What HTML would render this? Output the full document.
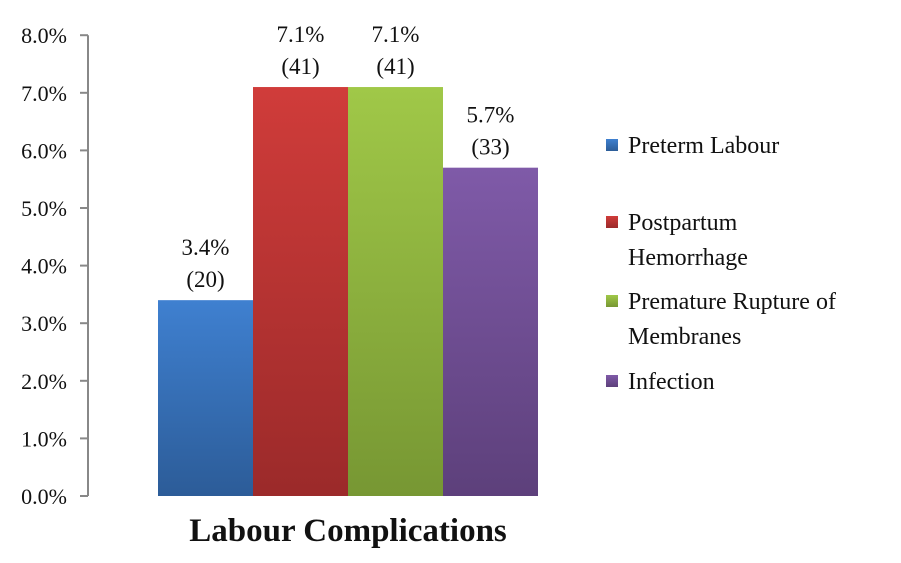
<!DOCTYPE html>
<html><head><meta charset="utf-8"><style>
body{margin:0;background:#fff}
svg text{font-family:"Liberation Serif",serif;fill:#111}
</style></head><body>
<svg id="chart" width="901" height="558" xmlns="http://www.w3.org/2000/svg">
<defs>
<linearGradient id="g0" x1="0" y1="0" x2="0" y2="1"><stop offset="0" stop-color="#3f80d0"/><stop offset="1" stop-color="#2c5c98"/></linearGradient>
<linearGradient id="g1" x1="0" y1="0" x2="0" y2="1"><stop offset="0" stop-color="#d03c3a"/><stop offset="1" stop-color="#9b2a2a"/></linearGradient>
<linearGradient id="g2" x1="0" y1="0" x2="0" y2="1"><stop offset="0" stop-color="#a0c848"/><stop offset="1" stop-color="#779733"/></linearGradient>
<linearGradient id="g3" x1="0" y1="0" x2="0" y2="1"><stop offset="0" stop-color="#7f5aa8"/><stop offset="1" stop-color="#5d407b"/></linearGradient>
</defs>
<g id="axis"></g>
<g id="bars"></g>
<g id="legend"></g>
<text x="348" y="541" text-anchor="middle" font-size="33" font-weight="bold">Labour Complications</text>
</svg>
<script>
const categories=["Preterm Labour","Postpartum Hemorrhage","Premature Rupture of Membranes","Infection"];
const values=[3.4,7.1,7.1,5.7];
const counts=[20,41,41,33];
const ticks=[0,1,2,3,4,5,6,7,8];
const legendLines=[["Preterm Labour"],["Postpartum","Hemorrhage"],["Premature Rupture of","Membranes"],["Infection"]];
const NS="http://www.w3.org/2000/svg";
const y0=496,pxPer=57.6,x0=158,bw=95;
const y=v=>y0-v*pxPer;
const x=i=>x0+i*bw;
function mk(t,a,p){const e=document.createElementNS(NS,t);for(const k in a)e.setAttribute(k,a[k]);p.appendChild(e);return e;}
const ax=document.getElementById('axis');
const al=mk('line',{x1:88,y1:y(8),x2:88,y2:y0,stroke:'#888','stroke-width':2},ax);


ticks.forEach(t=>{
 const l=mk('line',{x1:80,x2:88,y1:y(t),y2:y(t),stroke:'#888','stroke-width':2},ax);
 
 
 const tx=mk('text',{x:67,y:y(t)+8,'text-anchor':'end','font-size':22},ax);
 tx.textContent=t.toFixed(1)+'%';
 
 
});
const bg=document.getElementById('bars');
values.forEach((v,i)=>{
 const r=mk('rect',{x:x(i),y:y(v),width:bw,height:y0-y(v),fill:'url(#g'+i+')'},bg);
 
 
 const cx=x(i)+bw/2;
 const t1=mk('text',{x:cx,y:y(v)-45,'text-anchor':'middle','font-size':23},bg);
 t1.textContent=v.toFixed(1)+'%';
 
 
 const t2=mk('text',{x:cx,y:y(v)-13,'text-anchor':'middle','font-size':23},bg);
 t2.textContent='('+counts[i]+')';
 
 
});
const lg=document.getElementById('legend');
const ly=[145,222,301,381];
legendLines.forEach((lines,i)=>{
 const g=mk('g',{},lg);
 
 
 mk('rect',{x:606,y:ly[i]-6,width:12,height:12,fill:'url(#g'+i+')'},g);
 lines.forEach((s,j)=>{
  const t=mk('text',{x:628,y:ly[i]+8+j*35,'font-size':24},g);
  t.textContent=s;
 });
});
</script>
</body></html>
